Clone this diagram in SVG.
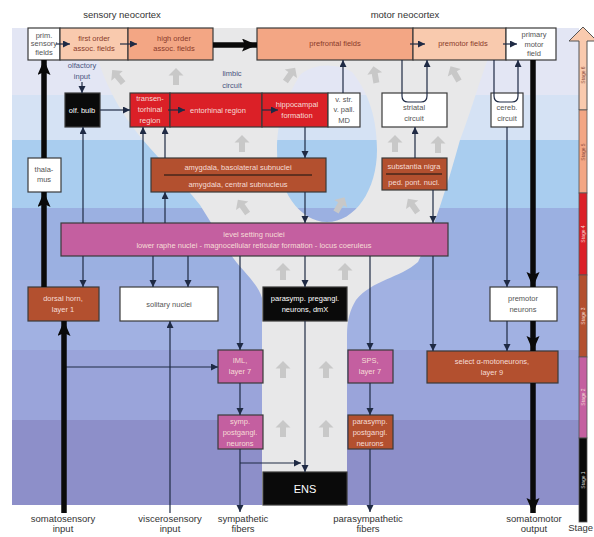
<svg xmlns="http://www.w3.org/2000/svg" width="594" height="537" viewBox="0 0 594 537">
<defs>
<style>
text{font-family:"Liberation Sans",Arial,sans-serif;text-anchor:middle}
.t{font-size:7.5px}
.h{font-size:9.5px;fill:#333}
.b{font-size:9.5px;fill:#333}
.lab{font-size:7.5px;fill:#4a5580}
.dk{fill:#555}
.pk{fill:#8a3a2a}
.wt{fill:#f6dcd6}
.wh{fill:#fff}
.box{stroke:#3a3a3a;stroke-width:1.2}
.white{fill:#fff}
.peach{fill:#f9caae}
.salmon{fill:#f3a684}
.red{fill:#db2027}
.sienna{fill:#b3502f}
.pink{fill:#c45fa0}
.black{fill:#0a0a0a}
.ln{fill:none;stroke:#1f2a44;stroke-width:1.2;marker-end:url(#a)}
.th{fill:none;stroke:#0a0a0a;stroke-width:5.5;marker-end:url(#A)}
.ga{fill:#c8c8c8}
.st{font-size:5px}
</style>
<marker id="a" markerUnits="userSpaceOnUse" markerWidth="8" markerHeight="8" refX="7" refY="3.5" orient="auto"><path d="M0,0 L7,3.5 L0,7 Z" fill="#1f2a44"/></marker>
<marker id="A" markerUnits="userSpaceOnUse" markerWidth="16" markerHeight="14" refX="15" refY="6.5" orient="auto"><path d="M0,0 L15,6.5 L0,13 L3,6.5 Z" fill="#0a0a0a"/></marker>
<path id="ua" d="M0,-9 L7.5,-1.5 L3,-1.5 L3,8 L-3,8 L-3,-1.5 L-7.5,-1.5 Z"/>
</defs>
<rect width="594" height="537" fill="#fff"/>
<g id="bands">
<rect x="12" y="28" width="567" height="67" fill="#e3e6f4"/>
<rect x="12" y="95" width="567" height="45" fill="#d5e2f4"/>
<rect x="12" y="140" width="567" height="68" fill="#a9cdef"/>
<rect x="12" y="208" width="567" height="72" fill="#9bb0e1"/>
<rect x="12" y="280" width="567" height="70" fill="#a1b1e2"/>
<rect x="12" y="350" width="567" height="70" fill="#9aa4da"/>
<rect x="12" y="420" width="567" height="85" fill="#8d8fc9"/>
</g>
<path id="tree" fill="#e8e8e9" fill-rule="evenodd" d="M262,505 L262,298 C258,282 238,268 228,250 L200,205 C180,180 160,160 143,140 C120,112 100,80 90,28 L500,28 C482,70 472,110 460,140 C446,190 434,228 418,262 C400,278 372,280 356,300 C350,310 347,320 347,335 L347,505 Z M300,75 C285,100 277,120 277,150 C277,190 300,222 327,222 C355,222 377,190 377,150 C377,112 365,88 352,72 C335,62 312,64 300,75 Z"/>
<g id="grey-arrows" class="ga">
<use href="#ua" transform="translate(118,77) rotate(-40)"/>
<use href="#ua" transform="translate(176,77)"/>
<use href="#ua" transform="translate(290,75) rotate(35)"/>
<use href="#ua" transform="translate(375,75) rotate(-10)"/>
<use href="#ua" transform="translate(455,74) rotate(-30)"/>
<use href="#ua" transform="translate(242,144)"/>
<use href="#ua" transform="translate(395,144)"/>
<use href="#ua" transform="translate(438,145)"/>
<use href="#ua" transform="translate(243,207) rotate(-35)"/>
<use href="#ua" transform="translate(340,205) rotate(30)"/>
<use href="#ua" transform="translate(413,206) rotate(-35)"/>
<use href="#ua" transform="translate(283,272)"/>
<use href="#ua" transform="translate(345,272)"/>
<use href="#ua" transform="translate(283,370)"/>
<use href="#ua" transform="translate(326,370)"/>
<use href="#ua" transform="translate(283,429)"/>
<use href="#ua" transform="translate(326,429)"/>
</g>
<text class="h" x="122" y="18">sensory neocortex</text>
<text class="h" x="405" y="18">motor neocortex</text>
<g id="prim-sensory"><rect class="box white" x="28" y="28" width="32" height="32"/><text class="t dk"><tspan x="44" y="38">prim.</tspan><tspan x="44" y="46">sensory</tspan><tspan x="44" y="55">fields</tspan></text></g>
<g id="first-order"><rect class="box peach" x="60" y="28" width="68" height="32"/><text class="t pk"><tspan x="94" y="41">first order</tspan><tspan x="94" y="51">assoc. fields</tspan></text></g>
<g id="high-order"><rect class="box salmon" x="128" y="28" width="85" height="32"/><text class="t pk"><tspan x="174" y="41">high order</tspan><tspan x="174" y="51">assoc. fields</tspan></text></g>
<g id="prefrontal"><rect class="box salmon" x="257" y="28" width="156" height="32"/><text class="t pk" x="335" y="46">prefrontal fields</text></g>
<g id="premotor"><rect class="box peach" x="413" y="28" width="93" height="32"/><text class="t pk" x="463" y="46">premotor fields</text></g>
<g id="primary-motor"><rect class="box white" x="506" y="28" width="50" height="32"/><text class="t dk"><tspan x="534" y="37">primary</tspan><tspan x="534" y="47">motor</tspan><tspan x="534" y="56">field</tspan></text></g>
<text class="lab"><tspan x="82" y="68">olfactory</tspan><tspan x="82" y="79">input</tspan></text>
<text class="lab"><tspan x="232" y="76">limbic</tspan><tspan x="232" y="88">circuit</tspan></text>
<g id="olf-bulb"><rect class="box black" x="65" y="93" width="35" height="34"/><text class="t wh" x="82" y="113">olf. bulb</text></g>
<g id="transentorhinal"><rect class="box red" x="130" y="93" width="40" height="34"/><text class="t wt"><tspan x="150" y="101">transen-</tspan><tspan x="150" y="112">torhinal</tspan><tspan x="150" y="123">region</tspan></text></g>
<g id="entorhinal"><rect class="box red" x="170" y="93" width="92" height="34"/><text class="t wt" x="218" y="113">entorhinal region</text></g>
<g id="hippocampal"><rect class="box red" x="262" y="93" width="66" height="34"/><text class="t wt"><tspan x="297" y="107">hippocampal</tspan><tspan x="297" y="118">formation</tspan></text></g>
<g id="vstr"><rect class="box white" x="328" y="93" width="32" height="34"/><text class="t dk"><tspan x="344" y="102">v. str.</tspan><tspan x="344" y="112">v. pall.</tspan><tspan x="344" y="123">MD</tspan></text></g>
<g id="striatal"><rect class="box white" x="382" y="93" width="65" height="34"/><text class="t dk"><tspan x="414" y="110">striatal</tspan><tspan x="414" y="121">circuit</tspan></text></g>
<g id="cereb"><rect class="box white" x="491" y="93" width="32" height="34"/><text class="t dk"><tspan x="507" y="110">cereb.</tspan><tspan x="507" y="121">circuit</tspan></text></g>
<g id="thalamus"><rect class="box white" x="28" y="158" width="33" height="34"/><text class="t dk"><tspan x="44" y="172">thala-</tspan><tspan x="44" y="182">mus</tspan></text></g>
<g id="amygdala"><rect class="box sienna" x="151" y="158" width="175" height="34"/><text class="t wt"><tspan x="238" y="170">amygdala, basolateral subnuclei</tspan><tspan x="238" y="187">amygdala, central subnucleus</tspan></text><line x1="164" y1="175" x2="312" y2="175" stroke="#111" stroke-width="1"/></g>
<g id="substantia"><rect class="box sienna" x="382" y="158" width="65" height="32"/><text class="t wt"><tspan x="414" y="169">substantia nigra</tspan><tspan x="414" y="185">ped. pont. nucl.</tspan></text><line x1="386" y1="174" x2="442" y2="174" stroke="#111" stroke-width="1"/></g>
<g id="level-setting"><rect class="box pink" x="61" y="223" width="387" height="33" /><text class="t wt"><tspan x="254" y="237">level setting nuclei</tspan><tspan x="254" y="248">lower raphe nuclei - magnocellular reticular formation - locus coeruleus</tspan></text></g>
<g id="dorsal-horn"><rect class="box sienna" x="28" y="287" width="71" height="34"/><text class="t wt"><tspan x="63" y="301">dorsal horn,</tspan><tspan x="63" y="312">layer 1</tspan></text></g>
<g id="solitary"><rect class="box white" x="120" y="287" width="98" height="34"/><text class="t dk" x="169" y="307">solitary nuclei</text></g>
<g id="parasymp-pre"><rect class="box black" x="263" y="287" width="84" height="34"/><text class="t wh"><tspan x="305" y="301">parasymp. pregangl.</tspan><tspan x="305" y="312">neurons, dmX</tspan></text></g>
<g id="premotor-neurons"><rect class="box white" x="490" y="287" width="67" height="34"/><text class="t dk"><tspan x="523" y="301">premotor</tspan><tspan x="523" y="312">neurons</tspan></text></g>
<g id="iml"><rect class="box pink" x="218" y="350" width="45" height="33"/><text class="t wt"><tspan x="240" y="363">IML,</tspan><tspan x="240" y="374">layer 7</tspan></text></g>
<g id="sps"><rect class="box pink" x="348" y="350" width="45" height="33"/><text class="t wt"><tspan x="370" y="363">SPS,</tspan><tspan x="370" y="374">layer 7</tspan></text></g>
<g id="alpha-motoneurons"><rect class="box sienna" x="427" y="351" width="131" height="32"/><text class="t wt"><tspan x="492" y="364">select α-motoneurons,</tspan><tspan x="492" y="375">layer 9</tspan></text></g>
<g id="symp-post"><rect class="box pink" x="218" y="415" width="45" height="34"/><text class="t wt"><tspan x="240" y="424">symp.</tspan><tspan x="240" y="435">postgangl.</tspan><tspan x="240" y="446">neurons</tspan></text></g>
<g id="parasymp-post"><rect class="box sienna" x="348" y="415" width="45" height="34"/><text class="t wt"><tspan x="370" y="424">parasymp.</tspan><tspan x="370" y="435">postgangl.</tspan><tspan x="370" y="446">neurons</tspan></text></g>
<g id="ens"><rect class="box black" x="263" y="472" width="84" height="33"/><text x="305" y="493" style="font-size:11px" class="wh">ENS</text></g>
<g id="connectors">
<path class="ln" d="M82,82 L82,93"/>
<path class="ln" d="M100,110 L130,110"/>
<path class="ln" d="M168,110 L185,110"/>
<path class="ln" d="M262,110 L278,110"/>
<path class="ln" d="M343,93 L343,60"/>
<path class="ln" d="M56,44 L70,44"/>
<path class="ln" d="M120,44 L137,44"/>
<path class="ln" d="M410,44 L425,44"/>
<path class="ln" d="M503,44 L517,44"/>
<path class="ln" d="M402,60 L402,96 Q402,102 408,102 L421,102 Q427,102 427,96 L427,60"/>
<path class="ln" d="M494,60 L494,96 Q494,102 500,102 L512,102 Q518,102 518,96 L518,60"/>
<path class="ln" d="M415,158 L415,127"/>
<path class="ln" d="M83,223 L83,127"/>
<path class="ln" d="M143,223 L143,127"/>
<path class="ln" d="M165,158 L165,127"/>
<path class="ln" d="M165,223 L165,192"/>
<path class="ln" d="M305,127 L305,158"/>
<path class="ln" d="M305,192 L305,223"/>
<path class="ln" d="M305,256 L305,287"/>
<path class="ln" d="M305,321 L305,472"/>
<path class="ln" d="M433,190 L433,223"/>
<path class="ln" d="M433,256 L433,351"/>
<path class="ln" d="M83,256 L83,287"/>
<path class="ln" d="M153,256 L153,287"/>
<path class="ln" d="M188,256 L188,287"/>
<path class="ln" d="M240,256 L240,350"/>
<path class="ln" d="M240,383 L240,415"/>
<path class="ln" d="M240,449 L240,512"/>
<path class="ln" d="M240,463 L301,463"/>
<path class="ln" d="M370,256 L370,350"/>
<path class="ln" d="M370,383 L370,415"/>
<path class="ln" d="M370,449 L370,512"/>
<path class="ln" d="M170,513 L170,321"/>
<path class="ln" d="M64,367 L218,367"/>
<path class="ln" d="M507,127 L507,287"/>
<path class="ln" d="M507,321 L507,351"/>
<path class="th" d="M213,45 L257,45"/>
<path class="th" d="M64,513 L64,321"/>
<path class="th" d="M44,287 L44,192"/>
<path class="th" d="M44,158 L44,60"/>
<path class="th" d="M533,60 L533,287"/>
<path class="th" d="M533,321 L533,351"/>
<path class="th" d="M533,383 L533,513"/>
</g>
<g id="stage-bar">
<path d="M583,27 L569,41 L579,41 L579,110 L587,110 L587,41 L597,41 Z" fill="#f9caae" stroke="#555" stroke-width="1"/>
<rect x="579" y="110" width="8" height="83" fill="#f3a684" stroke="#555" stroke-width="0.8"/>
<rect x="579" y="193" width="8" height="82" fill="#db2027" stroke="#555" stroke-width="0.8"/>
<rect x="579" y="275" width="8" height="82" fill="#b3502f" stroke="#555" stroke-width="0.8"/>
<rect x="579" y="357" width="8" height="81" fill="#c45fa0" stroke="#555" stroke-width="0.8"/>
<rect x="579" y="438" width="8" height="84" fill="#0a0a0a" stroke="#555" stroke-width="0.8"/>
<text class="st" fill="#8a4a3a" transform="translate(585,75) rotate(-90)">Stage 6</text>
<text class="st" fill="#8a4a3a" transform="translate(585,152) rotate(-90)">Stage 5</text>
<text class="st" fill="#f6dcd6" transform="translate(585,234) rotate(-90)">Stage 4</text>
<text class="st" fill="#f6dcd6" transform="translate(585,316) rotate(-90)">Stage 3</text>
<text class="st" fill="#f6dcd6" transform="translate(585,397) rotate(-90)">Stage 2</text>
<text class="st" fill="#ddd" transform="translate(585,480) rotate(-90)">Stage 1</text>
<text class="b" x="593" y="531" style="text-anchor:end">Stage</text>
</g>
<text class="b"><tspan x="63" y="522">somatosensory</tspan><tspan x="63" y="532">input</tspan></text>
<text class="b"><tspan x="170" y="522">viscerosensory</tspan><tspan x="170" y="532">input</tspan></text>
<text class="b"><tspan x="243" y="522">sympathetic</tspan><tspan x="243" y="532">fibers</tspan></text>
<text class="b"><tspan x="368" y="522">parasympathetic</tspan><tspan x="368" y="532">fibers</tspan></text>
<text class="b"><tspan x="534" y="522">somatomotor</tspan><tspan x="534" y="532">output</tspan></text>
</svg>
